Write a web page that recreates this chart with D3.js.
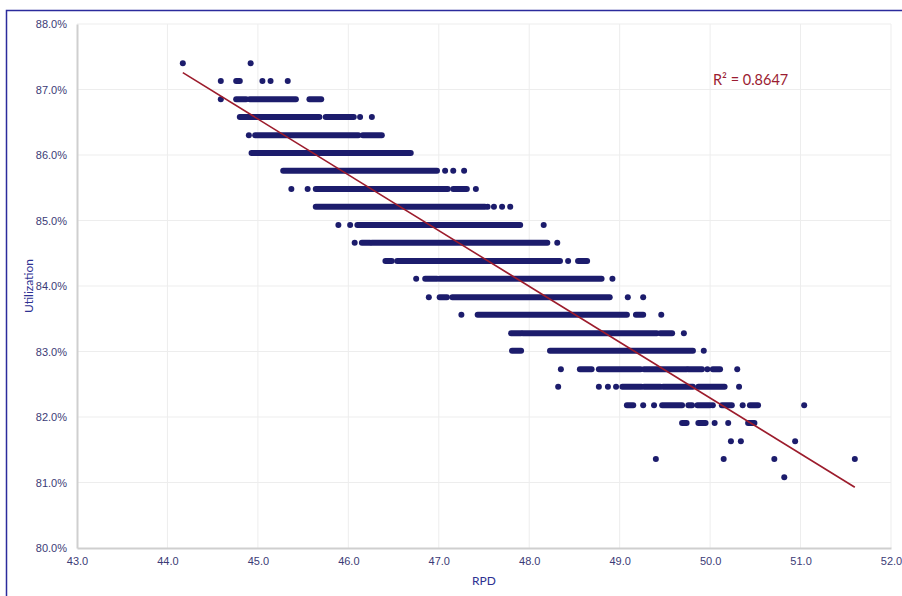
<!DOCTYPE html>
<html>
<head>
<meta charset="utf-8">
<script src="https://cdn.jsdelivr.net/npm/d3@7"></script>
<style>
    body { margin: 0; background: #ffffff; }
    svg { display: block; font-family: "Lato", "Open Sans", sans-serif; }
    .tick_label { fill: #3b3b76; font-size: 11px; }
    .axis_title { fill: #2e3192; font-size: 12px; }
</style>
</head>
<body>
<svg id="scatter_chart" width="902" height="596"></svg>
<script>
// utilization levels (%), one per row of points, top to bottom
const utilizationLevels = [87.40, 87.13, 86.85, 86.58, 86.30, 86.03, 85.76, 85.48, 85.21, 84.93, 84.66, 84.38,
    84.11, 83.83, 83.56, 83.28, 83.01, 82.73, 82.46, 82.18, 81.91, 81.63, 81.36, 81.08];

// RPD values on each row: a number is a single point, a pair is a dense run of points
const rpdByLevel = [
    [44.17, 44.92],
    [44.59, [44.76, 44.80], 45.05, 45.14, 45.33],
    [44.59, [44.76, 44.87], [44.91, 45.42], [45.57, 45.70]],
    [[44.80, 45.68], [45.75, 46.06], 46.13, 46.26],
    [44.90, [44.97, 46.11], [46.16, 46.37]],
    [[44.93, 46.69]],
    [[45.28, 46.98], 47.07, 47.16, 47.28],
    [45.37, 45.55, [45.64, 47.10], [47.16, 47.31], 47.41],
    [[45.64, 47.51], 47.54, 47.61, 47.70, 47.79],
    [45.89, 46.02, [46.10, 47.90], 48.16],
    [46.07, [46.15, 46.24], [46.26, 48.20], 48.31],
    [[46.41, 46.48], [46.54, 48.34], 48.43, [48.54, 48.64]],
    [46.75, [46.85, 46.98], [47.01, 48.80], 48.92],
    [46.89, [47.01, 47.09], [47.15, 48.89], 49.09, 49.26],
    [47.25, [47.43, 49.08], [49.18, 49.26], 49.46],
    [[47.80, 47.91], [47.93, 49.41], [49.45, 49.58], 49.71],
    [[47.81, 47.91], [48.23, 49.81], 49.93],
    [48.35, [48.56, 48.69], [48.77, 49.23], [49.27, 49.74], [49.76, 49.91], 49.97, [50.03, 50.11], 50.30],
    [48.32, 48.77, 48.87, 48.96, [49.03, 49.24], [49.27, 49.45], [49.48, 49.81], [49.87, 50.16], 50.32],
    [[49.08, 49.15], 49.26, 49.38, [49.47, 49.69], [49.76, 49.80], [49.86, 50.00], 50.03, [50.13, 50.24], 50.36, [50.44, 50.53], 51.04],
    [[49.69, 49.74], [49.87, 49.95], 50.05, 50.20, [50.42, 50.49]],
    [50.23, 50.34, 50.94],
    [49.40, 50.15, 50.71, 51.60],
    [50.82]
];

const xTicks = [43, 44, 45, 46, 47, 48, 49, 50, 51, 52];
const yTicks = [80, 81, 82, 83, 84, 85, 86, 87, 88];

// linear trend
const trendSlope = -0.852;
const trendIntercept = 124.89;
const rSquared = 0.8647;

function build_scatter() {
    var svg = d3.select("#scatter_chart");
    const plot = {left: 77, right: 891, top: 24, bottom: 548};

    var xScale = d3.scaleLinear().domain([43, 52]).range([plot.left, plot.right]);
    var yScale = d3.scaleLinear().domain([80, 88]).range([plot.bottom, plot.top]);

    // outer frame
    svg.append("rect")
        .attr("x", 6.5).attr("y", 10.5)
        .attr("width", 905).attr("height", 600)
        .attr("fill", "none")
        .attr("stroke", "#2b2b9c")
        .attr("stroke-width", 1.5);

    // grid
    svg.append("g").selectAll("line")
        .data(xTicks.slice(1)).enter()
        .append("line")
        .attr("x1", d => xScale(d)).attr("x2", d => xScale(d))
        .attr("y1", plot.top).attr("y2", plot.bottom)
        .attr("stroke", "#ededed").attr("stroke-width", 1);

    svg.append("g").selectAll("line")
        .data(yTicks.slice(1)).enter()
        .append("line")
        .attr("x1", plot.left).attr("x2", plot.right)
        .attr("y1", d => yScale(d)).attr("y2", d => yScale(d))
        .attr("stroke", "#ededed").attr("stroke-width", 1);

    // axes
    var xAxis = d3.axisBottom(xScale).tickValues(xTicks).tickSize(0).tickPadding(9)
        .tickFormat(d => d.toFixed(1));
    var yAxis = d3.axisLeft(yScale).tickValues(yTicks).tickSize(0).tickPadding(10)
        .tickFormat(d => d.toFixed(1) + "%");

    var gx = svg.append("g")
        .attr("transform", "translate(0," + plot.bottom + ")")
        .call(xAxis);
    var gy = svg.append("g")
        .attr("transform", "translate(" + plot.left + ",0)")
        .call(yAxis);

    [gx, gy].forEach(function(g) {
        g.select(".domain").attr("stroke", "#cfcfcf").attr("stroke-width", 2);
        g.selectAll(".tick text").attr("class", "tick_label").attr("font-family", null).attr("font-size", null);
    });

    svg.append("text")
        .attr("class", "axis_title")
        .attr("text-anchor", "middle")
        .attr("transform", "translate(33," + ((plot.top + plot.bottom) / 2) + ") rotate(-90)")
        .text("Utilization");

    svg.append("text")
        .attr("class", "axis_title")
        .attr("text-anchor", "middle")
        .attr("x", (plot.left + plot.right) / 2)
        .attr("y", 585)
        .text("RPD");

    // points
    var rows = svg.append("g").selectAll("g.row")
        .data(utilizationLevels.map((u, i) => ({u: u, items: rpdByLevel[i]})))
        .enter().append("g").classed("row", true);

    rows.selectAll("circle")
        .data(row => row.items.filter(v => typeof v === "number").map(v => ({x: v, u: row.u})))
        .enter().append("circle")
        .attr("cx", d => xScale(d.x))
        .attr("cy", d => yScale(d.u))
        .attr("r", 3)
        .attr("fill", "#1c1c6c");

    rows.selectAll("line")
        .data(row => row.items.filter(v => typeof v !== "number").map(v => ({x0: v[0], x1: v[1], u: row.u})))
        .enter().append("line")
        .attr("x1", d => xScale(d.x0)).attr("x2", d => xScale(d.x1))
        .attr("y1", d => yScale(d.u)).attr("y2", d => yScale(d.u))
        .attr("stroke", "#1c1c6c")
        .attr("stroke-width", 6)
        .attr("stroke-linecap", "round");

    // trend line over the data range
    var allX = rpdByLevel.flat(2);
    var xMin = d3.min(allX), xMax = d3.max(allX);
    svg.append("line")
        .attr("x1", xScale(xMin)).attr("y1", yScale(trendIntercept + trendSlope * xMin))
        .attr("x2", xScale(xMax)).attr("y2", yScale(trendIntercept + trendSlope * xMax))
        .attr("stroke", "#9c1c2c")
        .attr("stroke-width", 1.6);

    svg.append("text")
        .attr("x", 713)
        .attr("y", 85)
        .attr("fill", "#9b1c31")
        .attr("font-size", "14.5px")
        .text("R² = " + rSquared.toFixed(4));
}

build_scatter();
</script>
</body>
</html>
